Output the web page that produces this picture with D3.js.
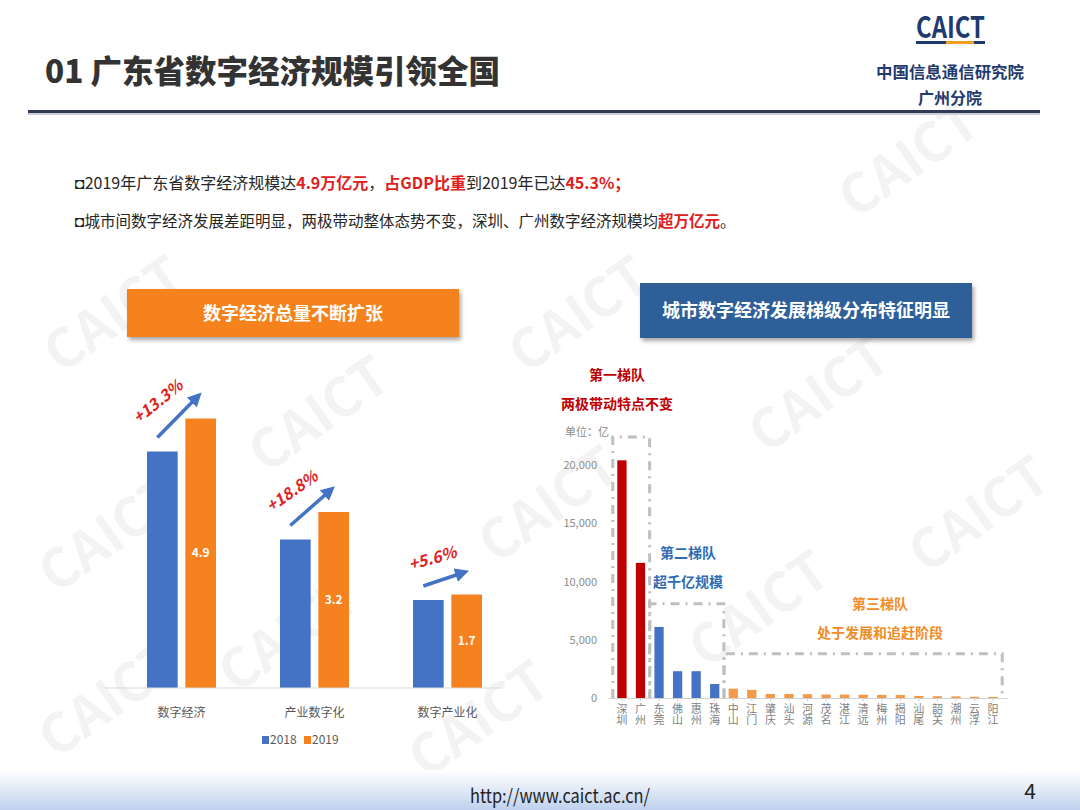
<!DOCTYPE html>
<html>
<head>
<meta charset="utf-8">
<script src="https://cdn.jsdelivr.net/npm/d3@7"></script>
<style>
  body { margin: 0; background: #fff; }
  svg { display: block; }
  text { font-family: "Noto Sans CJK SC", "Noto Sans", sans-serif; }
</style>
</head>
<body>
<svg id="canvas" width="1080" height="810"></svg>
<script>
// DATA
const categories = ["数字经济", "产业数字化", "数字产业化"];
const years = ["2018", "2019"];
const values2018 = [4.3, 2.7, 1.6];
const values2019 = [4.9, 3.2, 1.7];
const growthLabels = ["+13.3%", "+18.8%", "+5.6%"];

const cities = ["深圳", "广州", "东莞", "佛山", "惠州", "珠海", "中山", "江门", "肇庆", "汕头",
  "河源", "茂名", "湛江", "清远", "梅州", "揭阳", "汕尾", "韶关", "潮州", "云浮", "阳江"];
const cityValues = [20400, 11600, 6100, 2300, 2300, 1200, 800, 700, 350, 350,
  330, 300, 300, 280, 270, 260, 180, 150, 140, 100, 90];
const cityTicks = [0, 5000, 10000, 15000, 20000];

const tierNames = ["第一梯队", "第二梯队", "第三梯队"];
const tierNotes = ["两极带动特点不变", "超千亿规模", "处于发展和追赶阶段"];
const tierFirst = [0, 2, 6];
const tierLast = [1, 5, 20];
const tierTop = [22400, 8100, 3800];

// CANVAS SETUP
const canvas = d3.select("#canvas");
const defs = canvas.append("defs");

defs.append("filter").attr("id", "shadow")
  .attr("x", "-5%").attr("y", "-20%").attr("width", "115%").attr("height", "160%")
  .append("feDropShadow")
  .attr("dx", 2).attr("dy", 3).attr("stdDeviation", 2)
  .attr("flood-color", "#000").attr("flood-opacity", 0.35);

defs.append("marker").attr("id", "arrowHead")
  .attr("viewBox", "0 0 10 10").attr("refX", 6).attr("refY", 5)
  .attr("markerWidth", 4).attr("markerHeight", 4).attr("orient", "auto")
  .append("path").attr("d", "M0,0 L10,5 L0,10 z").attr("fill", "#4472C4");

const footGrad = defs.append("linearGradient").attr("id", "footGrad")
  .attr("x1", 0).attr("y1", 0).attr("x2", 0).attr("y2", 1);
footGrad.append("stop").attr("offset", "0%").attr("stop-color", "#ffffff");
footGrad.append("stop").attr("offset", "45%").attr("stop-color", "#e3ebf7");
footGrad.append("stop").attr("offset", "100%").attr("stop-color", "#bfd1ee");

// WATERMARKS
const marks = [[125, 330], [330, 430], [590, 330], [830, 410], [120, 550], [300, 650],
  [560, 520], [920, 175], [990, 530], [770, 625], [120, 715], [490, 735]];
canvas.append("g").selectAll("text").data(marks).join("text")
  .attr("transform", d => `translate(${d[0]},${d[1]}) rotate(-35)`)
  .attr("text-anchor", "middle")
  .attr("font-family", "Liberation Sans")
  .attr("font-weight", 700)
  .attr("font-size", 54)
  .attr("fill", "#000").attr("opacity", 0.045)
  .text("CAICT");

// FOOTER
canvas.append("rect").attr("x", 0).attr("y", 770).attr("width", 1080).attr("height", 40)
  .attr("fill", "url(#footGrad)");
canvas.append("text").attr("x", 470).attr("y", 803)
  .attr("font-family", "Liberation Sans").attr("font-size", 19)
  .attr("textLength", 180).attr("lengthAdjust", "spacingAndGlyphs")
  .attr("fill", "#222").text("http://www.caict.ac.cn/");
canvas.append("text").attr("x", 1030).attr("y", 799).attr("text-anchor", "middle")
  .attr("font-family", "Liberation Sans").attr("font-size", 21)
  .attr("fill", "#222").text("4");

// HEADER
canvas.append("text").attr("x", 45).attr("y", 83)
  .attr("font-size", 32).attr("font-weight", 900).attr("fill", "#333")
  .attr("textLength", 455).attr("lengthAdjust", "spacingAndGlyphs")
  .text("01 广东省数字经济规模引领全国");
canvas.append("rect").attr("x", 28).attr("y", 110).attr("width", 1012).attr("height", 3)
  .attr("fill", "#2f3a55");
canvas.append("rect").attr("x", 28).attr("y", 113).attr("width", 1012).attr("height", 2)
  .attr("fill", "#c9ced8");

canvas.append("text").attr("x", 916).attr("y", 38)
  .attr("font-family", "Liberation Sans")
  .attr("font-size", 30).attr("font-weight", 700).attr("fill", "#1f3a6e")
  .attr("textLength", 69).attr("lengthAdjust", "spacingAndGlyphs").text("CAICT");
canvas.append("rect").attr("x", 916).attr("y", 41).attr("width", 69).attr("height", 3).attr("fill", "#1f3a6e");
canvas.append("rect").attr("x", 946).attr("y", 41).attr("width", 28).attr("height", 3).attr("fill", "#f0a020");
canvas.append("text").attr("x", 950).attr("y", 78).attr("text-anchor", "middle")
  .attr("font-size", 16).attr("font-weight", 700).attr("fill", "#1f3a6e")
  .attr("textLength", 148).attr("lengthAdjust", "spacingAndGlyphs").text("中国信息通信研究院");
canvas.append("text").attr("x", 950).attr("y", 104).attr("text-anchor", "middle")
  .attr("font-size", 16).attr("font-weight", 700).attr("fill", "#1f3a6e").text("广州分院");

// BULLETS
const bullet1 = [["◘", false], ["2019年广东省数字经济规模达", false], ["4.9万亿元", true], ["，", false],
  ["占GDP比重", true], ["到2019年已达", false], ["45.3%；", true]];
const bullet2 = [["◘", false], ["城市间数字经济发展差距明显，两极带动整体态势不变，深圳、广州数字经济规模均", false],
  ["超万亿元", true], ["。", false]];
[[bullet1, 189, 16], [bullet2, 227, 15.5]].forEach(([parts, y, fs]) => {
  const t = canvas.append("text").attr("x", 75).attr("y", y).attr("font-size", fs);
  t.selectAll("tspan").data(parts).join("tspan")
    .attr("fill", d => d[1] ? "#e0201c" : "#262626")
    .attr("font-weight", d => d[1] ? 700 : 400)
    .text(d => d[0]);
});

// SECTION BOXES
canvas.append("rect").attr("x", 127).attr("y", 289).attr("width", 332).attr("height", 48)
  .attr("fill", "#f5821f").attr("filter", "url(#shadow)");
canvas.append("text").attr("x", 293).attr("y", 320).attr("text-anchor", "middle")
  .attr("font-size", 18).attr("font-weight", 700).attr("fill", "#fff").text("数字经济总量不断扩张");
canvas.append("rect").attr("x", 640).attr("y", 283).attr("width", 332).attr("height", 55)
  .attr("fill", "#2e5e99").attr("filter", "url(#shadow)");
canvas.append("text").attr("x", 806).attr("y", 317).attr("text-anchor", "middle")
  .attr("font-size", 18).attr("font-weight", 700).attr("fill", "#fff").text("城市数字经济发展梯级分布特征明显");

// LEFT CHART
const barColors = { "2018": "#4472c4", "2019": "#f5821f" };
const x0 = d3.scaleBand().domain(categories).range([115, 514]);
const x1 = d3.scaleBand().domain(years).range([32, 101]).paddingInner(0.2);
const yL = d3.scaleLinear().domain([0, 6]).range([688, 358]);

const leftRows = categories.map((c, i) => ({ cat: c, v18: values2018[i], v19: values2019[i], g: growthLabels[i] }));
const gL = canvas.append("g");

const groups = gL.selectAll("g.cat").data(leftRows).join("g").attr("class", "cat")
  .attr("transform", d => `translate(${x0(d.cat)},0)`);
groups.selectAll("rect").data(d => [["2018", d.v18], ["2019", d.v19]]).join("rect")
  .attr("x", d => x1(d[0])).attr("y", d => yL(d[1]))
  .attr("width", x1.bandwidth()).attr("height", d => yL(0) - yL(d[1]))
  .attr("fill", d => barColors[d[0]]);
groups.append("text")
  .attr("x", x1("2019") + x1.bandwidth() / 2)
  .attr("y", d => (yL(d.v19) + yL(0)) / 2 + 4)
  .attr("text-anchor", "middle").attr("font-size", 12).attr("font-weight", 700)
  .attr("fill", "#fff").text(d => d.v19);

gL.append("line").attr("x1", 105).attr("x2", 502).attr("y1", yL(0)).attr("y2", yL(0))
  .attr("stroke", "#d9d9d9").attr("stroke-width", 1.2);
gL.selectAll("text.cat").data(categories).join("text").attr("class", "cat")
  .attr("x", d => x0(d) + x0.bandwidth() / 2).attr("y", 717)
  .attr("text-anchor", "middle").attr("font-size", 12).attr("fill", "#595959").text(d => d);

// growth arrows
leftRows.forEach(d => {
  const xs = x0(d.cat) + x1("2018") + x1.bandwidth() / 2 - 5;
  const ys = yL(d.v18) - 14;
  const xe = x0(d.cat) + x1("2019") + x1.bandwidth() / 2 - 3;
  const ye = yL(d.v19) - 22;
  gL.append("line").attr("x1", xs).attr("y1", ys).attr("x2", xe).attr("y2", ye)
    .attr("stroke", "#4472c4").attr("stroke-width", 3.5).attr("marker-end", "url(#arrowHead)");
  const ang = Math.atan2(ye - ys, xe - xs);
  const deg = ang * 180 / Math.PI * 0.85;
  const mx = (xs + xe) / 2 + Math.sin(ang) * 22 - 4;
  const my = (ys + ye) / 2 - Math.cos(ang) * 22;
  gL.append("text").attr("transform", `translate(${mx},${my}) rotate(${deg})`)
    .attr("text-anchor", "middle").attr("font-size", 16).attr("font-weight", 700)
    .attr("font-style", "italic").attr("font-family", "Liberation Sans")
    .attr("fill", "#e0201c").attr("dy", "0.35em").text(d.g);
});

// legend
const leg = gL.append("g").attr("transform", "translate(262,741)");
years.forEach((yr, i) => {
  const lg = leg.append("g").attr("transform", `translate(${i * 42},0)`);
  lg.append("rect").attr("x", 0).attr("y", -5).attr("width", 7).attr("height", 8).attr("fill", barColors[yr]);
  lg.append("text").attr("x", 8).attr("y", 3).attr("font-size", 12).attr("fill", "#595959").text(yr);
});

// RIGHT CHART
const tierColors = ["#c00000", "#4472c4", "#f29a4a"];
const tierTextColors = ["#c00000", "#2e6db4", "#f28c28"];
const tierOf = i => tierFirst.filter(f => f <= i).length - 1;

const xR = d3.scaleBand().domain(cities).range([608, 1007]).padding(0.5);
const yR = d3.scaleLinear().domain([0, 20000]).range([698, 465]);
const gR = canvas.append("g");

gR.append("g").attr("transform", "translate(600,0)")
  .call(d3.axisLeft(yR).tickValues(cityTicks).tickFormat(d3.format(",")).tickSize(0))
  .call(g => {
    g.select(".domain").remove();
    g.selectAll("text").attr("font-size", 11).attr("fill", "#8c8c8c")
      .attr("font-family", "Liberation Sans");
  });
gR.append("text").attr("x", 565).attr("y", 436).attr("font-size", 11).attr("fill", "#8c8c8c").text("单位：亿");

gR.selectAll("rect.city").data(cities).join("rect").attr("class", "city")
  .attr("x", d => xR(d)).attr("y", (d, i) => yR(cityValues[i]))
  .attr("width", xR.bandwidth()).attr("height", (d, i) => yR(0) - yR(cityValues[i]))
  .attr("fill", (d, i) => tierColors[tierOf(i)]);

gR.append("g").attr("transform", `translate(0,${yR(0)})`)
  .call(d3.axisBottom(xR).tickSize(3).tickSizeOuter(0))
  .call(g => {
    g.select(".domain").attr("stroke", "#d0d0d0");
    g.selectAll("line").attr("stroke", "#d0d0d0");
    g.selectAll("text")
      .attr("y", 5).attr("dy", null).attr("x", 0)
      .attr("font-size", 11).attr("fill", "#7f7f7f")
      .attr("text-anchor", "start")
      .style("writing-mode", "vertical-rl")
      .style("text-orientation", "upright")
      .style("letter-spacing", "0px");
  });

// tier boxes
tierNames.forEach((name, k) => {
  const left = xR(cities[tierFirst[k]]) - 4.5;
  const right = xR(cities[tierLast[k]]) + xR.bandwidth() + 4.5;
  const top = yR(tierTop[k]);
  gR.append("path")
    .attr("d", `M${left},${yR(0)} L${left},${top} L${right},${top} L${right},${yR(0)}`)
    .attr("fill", "none").attr("stroke", "#bfbfbf").attr("stroke-width", 3)
    .attr("stroke-dasharray", "9,6,2,6");
});

const tierLabelX = [617, 688, 880];
const tierLabelY = [375, 553, 604];
tierNames.forEach((name, k) => {
  gR.append("text").attr("x", tierLabelX[k]).attr("y", tierLabelY[k] + 5).attr("text-anchor", "middle")
    .attr("font-size", 14).attr("font-weight", 700).attr("fill", tierTextColors[k]).text(name);
  gR.append("text").attr("x", tierLabelX[k]).attr("y", tierLabelY[k] + 34).attr("text-anchor", "middle")
    .attr("font-size", 14).attr("font-weight", 700).attr("fill", tierTextColors[k]).text(tierNotes[k]);
});
</script>
</body>
</html>
